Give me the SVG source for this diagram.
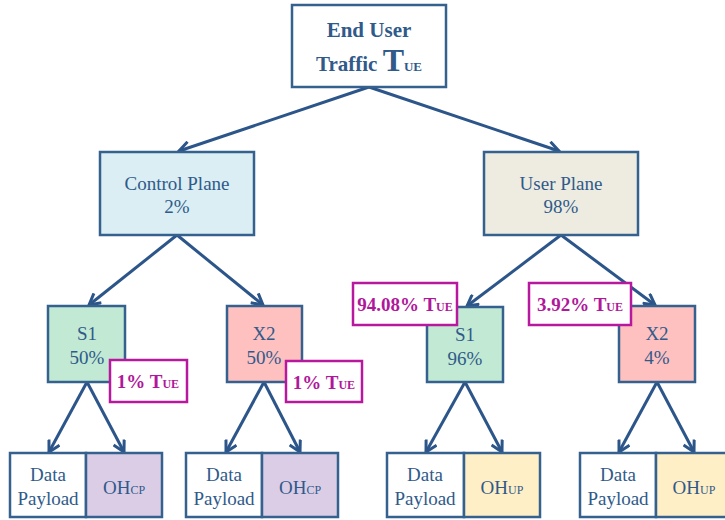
<svg xmlns="http://www.w3.org/2000/svg" width="725" height="520" viewBox="0 0 725 520">
<style>
.box{stroke:#35618F;stroke-width:2.5}
.t{font-family:"Liberation Serif","Times New Roman",serif;font-size:19px;fill:#2F5A8A;text-anchor:middle}
.tb{font-family:"Liberation Serif","Times New Roman",serif;font-weight:bold;fill:#2F5A8A;text-anchor:middle}
.lab{fill:#fff;stroke:#B8189E;stroke-width:2.5}
.lt{font-family:"Liberation Serif","Times New Roman",serif;font-weight:bold;font-size:19px;fill:#B0179A;text-anchor:middle}
.c{stroke:#2C558A;stroke-width:3;fill:none;marker-end:url(#ah)}
</style>
<defs>
<marker id="ah" viewBox="0 0 14 14" refX="12" refY="7" markerWidth="14" markerHeight="14" markerUnits="userSpaceOnUse" orient="auto">
<path d="M1,1 L12,7 L1,13" fill="none" stroke="#2C558A" stroke-width="3" stroke-linejoin="miter"/>
</marker>
</defs>
<rect width="725" height="520" fill="#fff"/>
<g id="connectors">
<line class="c" x1="369" y1="87" x2="179" y2="151"/>
<line class="c" x1="369" y1="87" x2="559" y2="151"/>
<line class="c" x1="177" y1="235" x2="89" y2="305"/>
<line class="c" x1="177" y1="235" x2="263" y2="305"/>
<line class="c" x1="561" y1="235" x2="467" y2="306"/>
<line class="c" x1="561" y1="235" x2="655" y2="305"/>
<line class="c" x1="87" y1="382" x2="49" y2="452"/>
<line class="c" x1="87" y1="382" x2="124" y2="452"/>
<line class="c" x1="264" y1="382" x2="226" y2="452"/>
<line class="c" x1="264" y1="382" x2="300" y2="452"/>
<line class="c" x1="465" y1="382" x2="426" y2="452"/>
<line class="c" x1="465" y1="382" x2="502" y2="452"/>
<line class="c" x1="657" y1="382" x2="619" y2="452"/>
<line class="c" x1="657" y1="382" x2="694" y2="452"/>
</g>
<g id="top">
<rect class="box" x="292" y="5" width="154" height="82" fill="#fff"/>
<text class="tb" x="369" y="37" font-size="21">End User</text>
<text class="tb" x="369" y="71" font-size="21">Traffic <tspan font-size="32">T</tspan><tspan font-size="13">UE</tspan></text>
</g>
<g id="control-plane">
<rect class="box" x="100" y="152" width="154" height="83" fill="#DAEEF3"/>
<text class="t" x="177" y="190">Control Plane</text>
<text class="t" x="177" y="213">2%</text>
</g>
<g id="user-plane">
<rect class="box" x="484" y="152" width="154" height="83" fill="#EEECE1"/>
<text class="t" x="561" y="190">User Plane</text>
<text class="t" x="561" y="213">98%</text>
</g>
<g id="cp-s1">
<rect class="box" x="48" y="306" width="77" height="76" fill="#C2E9D3"/>
<text class="t" x="87" y="340">S1</text>
<text class="t" x="87" y="364">50%</text>
</g>
<g id="cp-x2">
<rect class="box" x="227" y="306" width="75" height="76" fill="#FFC0C0"/>
<text class="t" x="264" y="340">X2</text>
<text class="t" x="264" y="364">50%</text>
</g>
<g id="up-s1">
<rect class="box" x="427" y="307" width="76" height="75" fill="#C2E9D3"/>
<text class="t" x="465" y="341">S1</text>
<text class="t" x="465" y="365">96%</text>
</g>
<g id="up-x2">
<rect class="box" x="619" y="306" width="76" height="76" fill="#FFC0C0"/>
<text class="t" x="657" y="340">X2</text>
<text class="t" x="657" y="364">4%</text>
</g>
<g id="label-cp-s1">
<rect class="lab" x="110" y="360" width="77" height="42"/>
<text class="lt" x="148" y="388">1% T<tspan font-size="12">UE</tspan></text>
</g>
<g id="label-cp-x2">
<rect class="lab" x="286" y="361" width="76" height="41"/>
<text class="lt" x="324" y="389">1% T<tspan font-size="12">UE</tspan></text>
</g>
<g id="label-up-s1">
<rect class="lab" x="353" y="283" width="104" height="42"/>
<text class="lt" x="405" y="311">94.08% T<tspan font-size="12">UE</tspan></text>
</g>
<g id="label-up-x2">
<rect class="lab" x="529" y="283" width="102" height="42"/>
<text class="lt" x="580" y="311">3.92% T<tspan font-size="12">UE</tspan></text>
</g>
<g id="cp-s1-split">
<rect class="box" x="10" y="453" width="76" height="64" fill="#fff"/>
<rect class="box" x="86" y="453" width="76" height="64" fill="#DCCDE6"/>
<text class="t" x="48" y="481">Data</text>
<text class="t" x="48" y="505">Payload</text>
<text class="t" x="124" y="494">OH<tspan font-size="12">CP</tspan></text>
</g>
<g id="cp-x2-split">
<rect class="box" x="186" y="453" width="76" height="64" fill="#fff"/>
<rect class="box" x="262" y="453" width="76" height="64" fill="#DCCDE6"/>
<text class="t" x="224" y="481">Data</text>
<text class="t" x="224" y="505">Payload</text>
<text class="t" x="300" y="494">OH<tspan font-size="12">CP</tspan></text>
</g>
<g id="up-s1-split">
<rect class="box" x="387" y="453" width="77" height="64" fill="#fff"/>
<rect class="box" x="464" y="453" width="76" height="64" fill="#FFEFC6"/>
<text class="t" x="425" y="481">Data</text>
<text class="t" x="425" y="505">Payload</text>
<text class="t" x="502" y="494">OH<tspan font-size="12">UP</tspan></text>
</g>
<g id="up-x2-split">
<rect class="box" x="580" y="453" width="76" height="64" fill="#fff"/>
<rect class="box" x="656" y="453" width="76" height="64" fill="#FFEFC6"/>
<text class="t" x="618" y="481">Data</text>
<text class="t" x="618" y="505">Payload</text>
<text class="t" x="694" y="494">OH<tspan font-size="12">UP</tspan></text>
</g>
</svg>
